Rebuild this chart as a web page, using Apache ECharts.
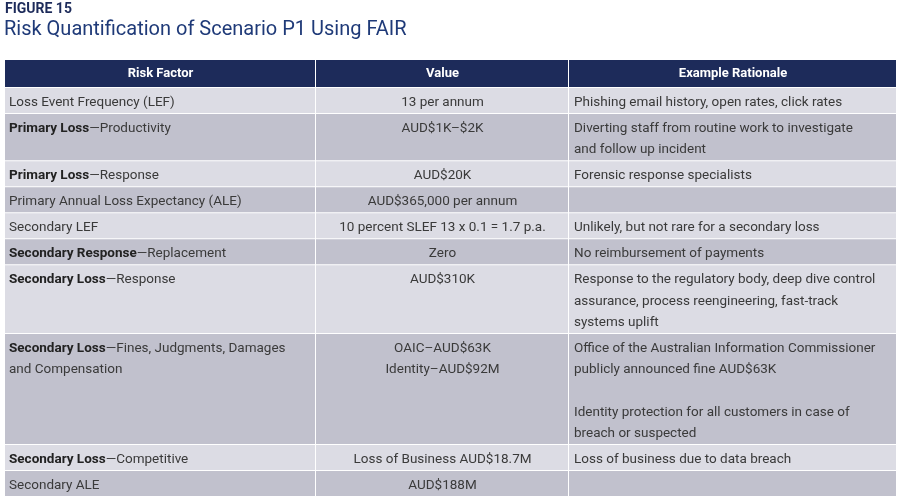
<!DOCTYPE html>
<html><head><meta charset="utf-8">
<script src="https://cdn.jsdelivr.net/npm/echarts@6/dist/echarts.min.js"></script>
<style>html,body{margin:0;background:#fff}#c{width:900px;height:503px}</style>
</head><body><div id="c"></div>
<script>
// table content
const headers = ['Risk Factor', 'Value', 'Example Rationale'];
const factorBold = ['', 'Primary Loss', 'Primary Loss', '', '', 'Secondary Response', 'Secondary Loss', 'Secondary Loss', 'Secondary Loss', ''];
const factorRest = ['Loss Event Frequency (LEF)', '\u2014Productivity', '\u2014Response', 'Primary Annual Loss Expectancy (ALE)', 'Secondary LEF', '\u2014Replacement', '\u2014Response', '\u2014Fines, Judgments, Damages\nand Compensation', '\u2014Competitive', 'Secondary ALE'];
const values = ['13 per annum', 'AUD$1K\u2013$2K', 'AUD$20K', 'AUD$365,000 per annum', '10 percent SLEF 13 x 0.1 = 1.7 p.a.', 'Zero', 'AUD$310K', 'OAIC\u2013AUD$63K\nIdentity\u2013AUD$92M', 'Loss of Business AUD$18.7M', 'AUD$188M'];
const rationales = ['Phishing email history, open rates, click rates', 'Diverting staff from routine work to investigate\nand follow up incident', 'Forensic response specialists', '', 'Unlikely, but not rare for a secondary loss', 'No reimbursement of payments', 'Response to the regulatory body, deep dive control\nassurance, process reengineering, fast-track\nsystems uplift', 'Office of the Australian Information Commissioner\npublicly announced fine AUD$63K\n\nIdentity protection for all customers in case of\nbreach or suspected', 'Loss of business due to data breach', ''];
const rowLines = [1, 2, 1, 1, 1, 1, 3, 5, 1, 1];

const colX = [5, 316, 569, 897];
const lineH = 21.3, top0 = 88, font = 'Roboto, sans-serif', txt = '#3a3a3a';
const g = [];
g.push({type: 'text', left: 5, top: 2, style: {text: 'FIGURE 15', font: 'bold 14px ' + font, fill: '#1d2b5a', letterSpacing: 1}});
g.push({type: 'text', left: 4, top: 20, style: {text: 'Risk Quantification of Scenario P1 Using FAIR', font: '20px ' + font, fill: '#1f3a78'}});
for (let c = 0; c < 3; c++) {
  g.push({type: 'rect', shape: {x: colX[c], y: 60, width: colX[c + 1] - colX[c] - 1, height: 27}, style: {fill: '#1d2b5a'}});
  g.push({type: 'text', x: (colX[c] + colX[c + 1]) / 2, y: 74, style: {text: headers[c], font: 'bold 13px ' + font, fill: '#fff', align: 'center', verticalAlign: 'middle'}});
}
let y = top0;
for (let r = 0; r < values.length; r++) {
  const h = 26 + lineH * (rowLines[r] - 1);
  const fill = r % 2 === 0 ? '#dcdce4' : '#c1c1cd';
  for (let c = 0; c < 3; c++)
    g.push({type: 'rect', shape: {x: colX[c], y: y, width: colX[c + 1] - colX[c] - 1, height: h - 1}, style: {fill: fill}});
  const restLines = factorRest[r].split('\n');
  let factor = (factorBold[r] ? '{b|' + factorBold[r] + '}' : '') + '{n|' + restLines[0] + '}';
  for (let i = 1; i < restLines.length; i++) factor += '\n{n|' + restLines[i] + '}';
  g.push({type: 'text', x: colX[0] + 4, y: y + 4, style: {text: factor, font: '13.5px ' + font, fill: txt, lineHeight: lineH,
    rich: {b: {font: 'bold 13.5px ' + font, fill: '#222', lineHeight: lineH}, n: {font: '13.5px ' + font, fill: txt, lineHeight: lineH}}}});
  g.push({type: 'text', x: (colX[1] + colX[2]) / 2, y: y + 4, style: {text: values[r], font: '13.5px ' + font, fill: txt, align: 'center', lineHeight: lineH}});
  g.push({type: 'text', x: colX[2] + 5, y: y + 4, style: {text: rationales[r], font: '13.5px ' + font, fill: txt, lineHeight: lineH}});
  y += h;
}
const chart = echarts.init(document.getElementById('c'));
chart.setOption({graphic: g});
</script></body></html>
